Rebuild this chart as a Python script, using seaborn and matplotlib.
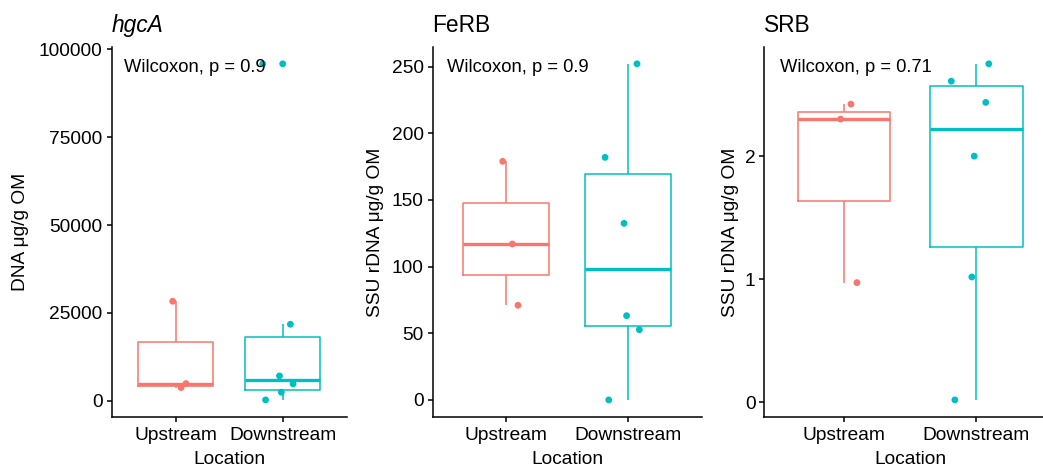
import numpy as np
import pandas as pd
import matplotlib
matplotlib.use("Agg")
import matplotlib.pyplot as plt
import seaborn as sns

# ---- data -----------------------------------------------------------------
locations = ["Upstream", "Downstream"]
colors = ["#F8766D", "#00BFC4"]

titles = ["hgcA", "FeRB", "SRB"]
title_styles = ["italic", "normal", "normal"]
ylabels = ["DNA \u03bcg/g OM", "SSU rDNA \u03bcg/g OM", "SSU rDNA \u03bcg/g OM"]
xlabel = "Location"
p_labels = ["Wilcoxon, p = 0.9", "Wilcoxon, p = 0.9", "Wilcoxon, p = 0.71"]

# hgcA abundance (DNA ug/g OM)
hgca_up = [28300, 4850, 3700]
hgca_down = [95900, 21740, 7030, 4750, 2390, 200]
hgca_down_extra = [95900]          # replicate drawn as a point only

# FeRB abundance (SSU rDNA ug/g OM)
ferb_up = [179, 117, 71]
ferb_down = [252.2, 182, 132.5, 63.2, 52.7, 0]

# SRB abundance (SSU rDNA ug/g OM)
srb_up = [2.425, 2.303, 0.973]
srb_down = [2.753, 2.612, 2.439, 2.002, 1.019, 0.019]

hgca_ticks = [0, 25000, 50000, 75000, 100000]
ferb_ticks = [0, 50, 100, 150, 200, 250]
srb_ticks = [0, 1, 2]

# horizontal jitter of the points (category units), in the order of the values
hgca_up_jit = [-0.028, 0.096, 0.05]
hgca_down_jit = [0.0, 0.072, -0.03, 0.097, -0.013, -0.16]
hgca_extra_jit = [-0.187]
ferb_up_jit = [-0.027, 0.052, 0.098]
ferb_down_jit = [0.071, -0.19, -0.035, -0.014, 0.09, -0.16]
srb_up_jit = [0.053, -0.025, 0.098]
srb_down_jit = [0.093, -0.19, 0.070, -0.017, -0.035, -0.163]

panels = [
    dict(up=hgca_up, down=hgca_down, extra=hgca_down_extra,
         up_j=hgca_up_jit, down_j=hgca_down_jit, extra_j=hgca_extra_jit,
         ticks=hgca_ticks),
    dict(up=ferb_up, down=ferb_down, extra=[],
         up_j=ferb_up_jit, down_j=ferb_down_jit, extra_j=[],
         ticks=ferb_ticks),
    dict(up=srb_up, down=srb_down, extra=[],
         up_j=srb_up_jit, down_j=srb_down_jit, extra_j=[],
         ticks=srb_ticks),
]

# ---- style ----------------------------------------------------------------
sns.set_theme(style="ticks")
plt.rcParams["font.family"] = ["Liberation Sans", "DejaVu Sans"]
plt.rcParams.update({
    "axes.linewidth": 1.1,
    "axes.edgecolor": "black",
    "xtick.color": "black",
    "ytick.color": "black",
    "xtick.labelcolor": "black",
    "ytick.labelcolor": "black",
    "xtick.major.width": 1.1,
    "ytick.major.width": 1.1,
    "xtick.major.size": 3.6,
    "ytick.major.size": 3.6,
    "xtick.major.pad": 4.0,
    "ytick.major.pad": 2.8,
    "xtick.labelsize": 13.8,
    "ytick.labelsize": 13.8,
    "axes.labelsize": 13.8,
    "axes.labelcolor": "black",
    "text.color": "black",
})

palette = dict(zip(locations, colors))

W, H = 1043, 466
fig = plt.figure(figsize=(W / 100, H / 100), dpi=100)

# axes extents in pixels (left, right); shared top/bottom
ax_lr = [(111.5, 346.9), (432.6, 701.7), (764.4, 1056.0)]
top_px, bottom_px = 47.0, 416.7
ylabel_x = [-0.3845, -0.214, -0.1156]

for i, (p, (l, r)) in enumerate(zip(panels, ax_lr)):
    ax = fig.add_axes([l / W, 1 - bottom_px / H, (r - l) / W, (bottom_px - top_px) / H])

    box_df = pd.DataFrame({
        "Location": ["Upstream"] * len(p["up"]) + ["Downstream"] * len(p["down"]),
        "value": p["up"] + p["down"],
    })
    pt_loc = (["Upstream"] * len(p["up"]) + ["Downstream"] * len(p["down"])
              + ["Downstream"] * len(p["extra"]))
    pt_df = pd.DataFrame({
        "Location": pt_loc,
        "value": p["up"] + p["down"] + p["extra"],
        "jit": p["up_j"] + p["down_j"] + p["extra_j"],
    })
    pt_df["xpos"] = pt_df["Location"].map({c: k for k, c in enumerate(locations)}) + pt_df["jit"]

    sns.boxplot(data=box_df, x="Location", y="value", hue="Location",
                order=locations, hue_order=locations, palette=palette,
                fill=False, width=0.7, showfliers=False, showcaps=False,
                linewidth=1.1, medianprops=dict(linewidth=2.4),
                legend=False, ax=ax)
    sns.scatterplot(data=pt_df, x="xpos", y="value", hue="Location",
                    hue_order=locations, palette=palette, s=24,
                    edgecolor="none", linewidth=0, legend=False, ax=ax, zorder=3)

    vmin = min(pt_df["value"]); vmax = max(pt_df["value"])
    pad = 0.05 * (vmax - vmin)
    ax.set_ylim(vmin - pad, vmax + pad)
    ax.set_xlim(-0.6, 1.6)
    ax.set_xticks(range(len(locations)), locations)
    ax.set_yticks(p["ticks"], [str(t) for t in p["ticks"]])

    sns.despine(ax=ax)

    ax.set_title(titles[i], loc="left", fontsize=16.4, fontstyle=title_styles[i], pad=10.6)
    ax.set_ylabel(ylabels[i])
    ax.yaxis.label.set_va("center")
    ax.yaxis.set_label_coords(ylabel_x[i], 0.5)
    ax.set_xlabel(xlabel)
    ax.xaxis.label.set_va("baseline")
    ax.xaxis.set_label_coords(0.5, -0.128)

    # test label sits level with the highest observation
    ax.annotate(p_labels[i], xy=(-0.48, vmax), xytext=(0, -5.6),
                textcoords="offset points", ha="left", va="baseline",
                fontsize=13.2)

fig.savefig("out.png", dpi=100)
